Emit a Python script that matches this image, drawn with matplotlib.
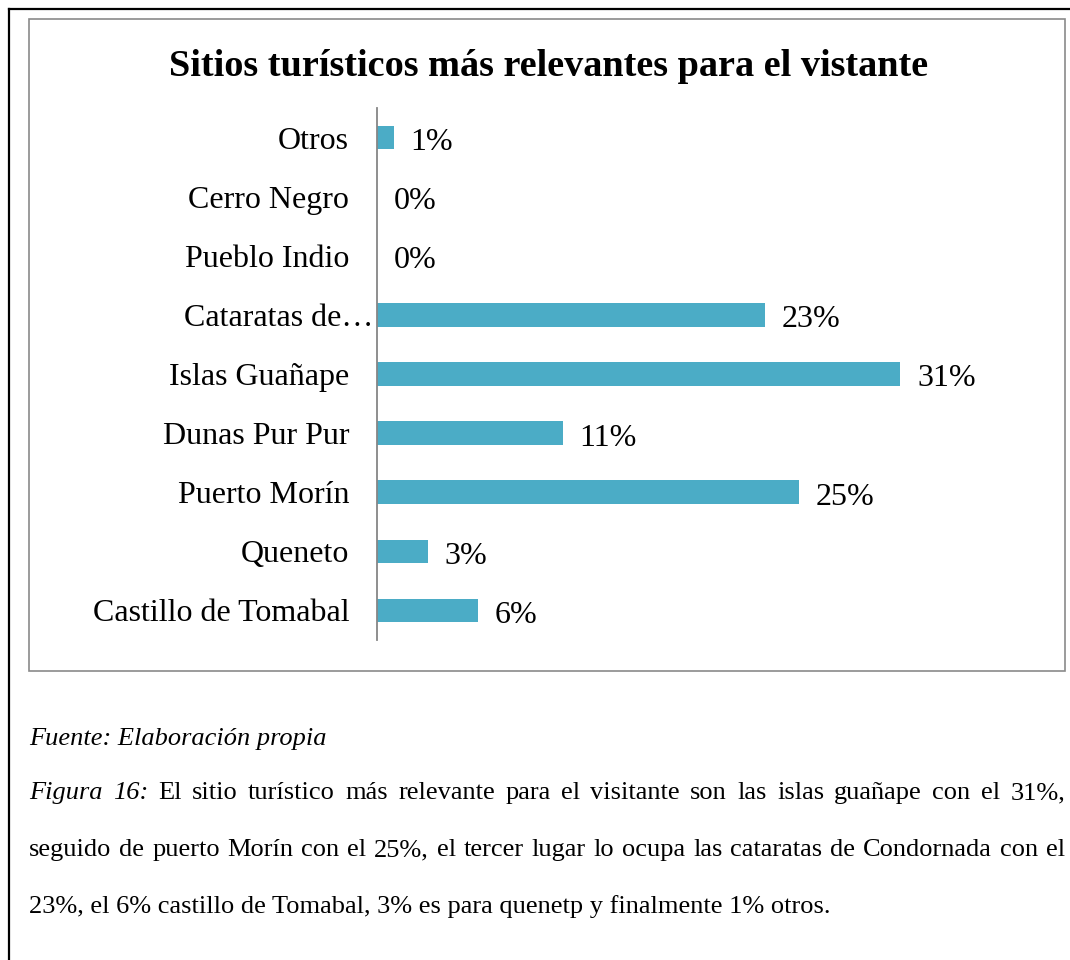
import matplotlib.pyplot as plt
import matplotlib.patches as patches
from matplotlib.transforms import ScaledTranslation

# data, bottom to top as drawn
sitios = ["Castillo de Tomabal", "Queneto", "Puerto Morín", "Dunas Pur Pur",
          "Islas Guañape", "Cataratas de…", "Pueblo Indio", "Cerro Negro", "Otros"]
porcentajes = [6, 3, 25, 11, 31, 23, 0, 0, 1]
etiquetas = ["6%", "3%", "25%", "11%", "31%", "23%", "0%", "0%", "1%"]

titulo = "Sitios turísticos más relevantes para el vistante"
fuente = "Fuente: Elaboración propia"
figura_ini = "Figura 16:"
linea1 = "El sitio turístico más relevante para el visitante son las islas guañape con el 31%,"
linea2 = "seguido de puerto Morín con el 25%, el tercer lugar lo ocupa las cataratas de Condornada con el"
linea3 = "23%, el 6% castillo de Tomabal, 3% es para quenetp y finalmente 1% otros."

plt.rcParams['font.family'] = ['Liberation Serif', 'DejaVu Serif']

W, H = 1070, 960
fig = plt.figure(figsize=(W / 100, H / 100), dpi=100)

def fx(px):
    return px / W

def fy(py):
    return 1 - py / H

# outer black frame (left + top) and grey chart box
fig.add_artist(plt.Line2D([fx(9), fx(9)], [fy(9), 0], color='black', lw=1.6))
fig.add_artist(plt.Line2D([fx(9), 1], [fy(9), fy(9)], color='black', lw=1.6))
fig.add_artist(patches.Rectangle((fx(29), fy(671)), fx(1065) - fx(29), fy(19) - fy(671),
                                 fill=False, edgecolor='#8a8a8a', lw=1.2,
                                 transform=fig.transFigure))

fig.text(fx(549), fy(76), titulo, ha='center', va='baseline',
         fontsize=27.5, fontweight='bold')

ax = fig.add_axes([fx(377), fy(640), fx(1005) - fx(377), fy(108) - fy(640)])
y = range(len(sitios))
ax.barh(y, porcentajes, height=0.4, color='#4BACC6')
ax.set_xlim(0, 37.2)
ax.set_ylim(-0.5, len(sitios) - 0.5)
for s in ['top', 'right', 'bottom']:
    ax.spines[s].set_visible(False)
ax.spines['left'].set_color('#868686')
ax.spines['left'].set_linewidth(1.3)
ax.set_xticks([])
ax.set_yticks(list(y), sitios, fontsize=23)
ax.tick_params(axis='y', length=0, pad=20)
for tl in ax.get_yticklabels():
    tl.set_verticalalignment('center_baseline')
    if tl.get_text().endswith('…'):
        tl.set_transform(tl.get_transform() + ScaledTranslation(0.24, 0, fig.dpi_scale_trans))
for yi, v, lab in zip(y, porcentajes, etiquetas):
    ax.annotate(lab, (v, yi), xytext=(12, -1), textcoords='offset points',
                ha='left', va='center_baseline', fontsize=23)

# caption text
fig.text(fx(29), fy(745), fuente, ha='left', va='baseline', fontsize=19, style='italic')

renderer = fig.canvas.get_renderer()

def justified(words, y_px, x0=29, x1=1065, first_italic=0):
    arts = []
    for i, w in enumerate(words):
        t = fig.text(0, fy(y_px), w, ha='left', va='baseline', fontsize=19,
                     style='italic' if i < first_italic else 'normal')
        arts.append(t)
    widths = [t.get_window_extent(renderer).width for t in arts]
    gap = (x1 - x0 - sum(widths)) / (len(arts) - 1)
    x = x0
    for t, wd in zip(arts, widths):
        t.set_x(fx(x))
        x += wd + gap

justified(figura_ini.split() + linea1.split(), 799, first_italic=2)
justified(linea2.split(), 856)
fig.text(fx(29), fy(913), linea3, ha='left', va='baseline', fontsize=19)

fig.savefig('out.png', dpi=100)
